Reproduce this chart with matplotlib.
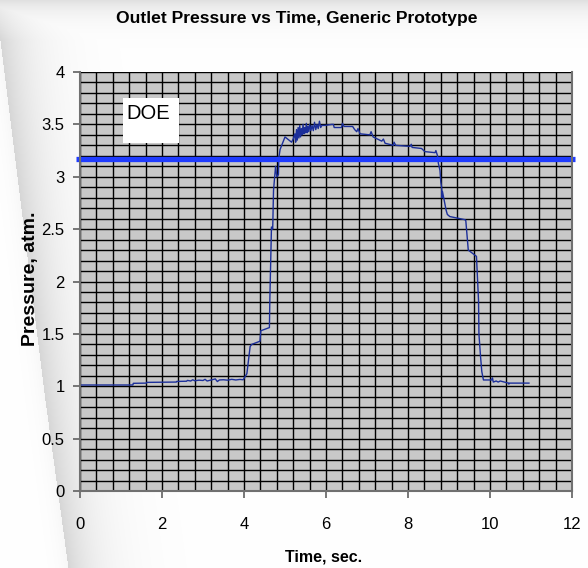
import numpy as np
import matplotlib
matplotlib.use('Agg')
import matplotlib.pyplot as plt
from matplotlib.patches import Rectangle

# data
time_s = [0.00, 1.29, 1.30, 1.62, 1.63, 2.35, 2.36, 2.60, 2.62, 2.70, 2.75, 2.80, 2.90, 3.00,
          3.05, 3.10, 3.20, 3.30, 3.35, 3.40, 3.50, 3.60, 3.70, 3.80, 3.90, 3.98, 4.07, 4.15,
          4.19, 4.39, 4.41, 4.62, 4.63, 4.67, 4.70, 4.72, 4.77, 4.80, 4.84, 4.85, 4.88, 4.94,
          5.00, 5.16, 5.20, 5.24, 5.26, 5.28, 5.30, 5.32, 5.34, 5.36, 5.38, 5.40, 5.42, 5.44,
          5.46, 5.48, 5.50, 5.52, 5.54, 5.56, 5.58, 5.60, 5.63, 5.66, 5.69, 5.72, 5.75, 5.78,
          5.81, 5.84, 5.87, 5.90, 5.98, 6.14, 6.18, 6.20, 6.38, 6.40, 6.44, 6.65, 6.70, 6.75,
          6.78, 6.83, 7.07, 7.10, 7.15, 7.36, 7.40, 7.44, 7.64, 7.66, 7.70, 8.05, 8.08, 8.10,
          8.33, 8.41, 8.66, 8.68, 8.72, 8.74, 8.78, 8.80, 8.82, 8.83, 8.84, 8.93, 8.96, 9.02,
          9.39, 9.41, 9.47, 9.67, 9.72, 9.73, 9.77, 9.80, 9.84, 10.04, 10.06, 10.08, 10.15,
          10.20, 10.25, 10.45, 10.46, 10.47, 10.95]
pressure_atm = [1.012, 1.012, 1.028, 1.030, 1.037, 1.040, 1.046, 1.048, 1.056, 1.050, 1.062,
                1.052, 1.058, 1.055, 1.066, 1.050, 1.060, 1.070, 1.045, 1.060, 1.062, 1.058,
                1.066, 1.060, 1.065, 1.062, 1.12, 1.38, 1.40, 1.43, 1.53, 1.56, 1.82, 2.52,
                2.50, 2.87, 3.10, 3.00, 3.02, 3.18, 3.26, 3.32, 3.38, 3.33, 3.36, 3.41, 3.33,
                3.45, 3.35, 3.47, 3.37, 3.49, 3.38, 3.46, 3.40, 3.50, 3.41, 3.47, 3.42, 3.51,
                3.42, 3.48, 3.43, 3.50, 3.44, 3.49, 3.44, 3.52, 3.45, 3.50, 3.46, 3.53, 3.47,
                3.49, 3.49, 3.50, 3.50, 3.47, 3.47, 3.51, 3.48, 3.48, 3.45, 3.43, 3.46, 3.41,
                3.40, 3.43, 3.38, 3.34, 3.36, 3.32, 3.30, 3.33, 3.30, 3.29, 3.31, 3.28, 3.27,
                3.24, 3.23, 3.25, 3.20, 3.13, 3.06, 2.95, 2.90, 2.80, 2.86, 2.68, 2.64, 2.62,
                2.59, 2.58, 2.30, 2.24, 1.82, 1.50, 1.28, 1.14, 1.06, 1.06, 1.08, 1.04, 1.05,
                1.04, 1.05, 1.03, 1.02, 1.03, 1.03]
doe_level = 3.17
x_ticks = [0, 2, 4, 6, 8, 10, 12]
y_ticks = [0, 0.5, 1, 1.5, 2, 2.5, 3, 3.5, 4]

W, H = 588, 568
plt.rcParams['font.family'] = 'Liberation Sans'
fig = plt.figure(figsize=(W / 100, H / 100), dpi=100)

# slide-like background: gray band at top and a soft swoosh on the left
bg = fig.add_axes([0, 0, 1, 1])
bg.axis('off')
yy, xx = np.mgrid[0:H, 0:W]
curve = np.interp(yy, [0, 40, 200, 400, 568], [-30, 0, 20, 45, 68])
d = xx - curve
shade = np.where(d >= 0, 0.16 * np.exp(-d / 32.0), 0.03 * np.exp(d / 10.0))
shade = np.maximum(shade, 0.12 * np.exp(-yy / 14.0))
img = np.clip(1 - shade, 0, 1)
bg.imshow(np.dstack([img, img, img]), extent=[0, W, H, 0], aspect='auto')
bg.set_xlim(0, W)
bg.set_ylim(H, 0)

ax = fig.add_axes([80 / W, (H - 491) / H, 492 / W, 419 / H])
ax.set_facecolor('#c8c8c8')
ax.set_xlim(0, 12)
ax.set_ylim(0, 4)
ax.set_xticks(x_ticks)
ax.set_yticks(y_ticks)
ax.set_xticks(np.arange(0, 12.01, 0.4), minor=True)
ax.set_yticks(np.arange(0, 4.01, 0.1), minor=True)
ax.set_xticklabels([str(v) for v in x_ticks])
ax.set_yticklabels([f'{v:g}' for v in y_ticks])
ax.grid(which='both', color='black', linewidth=1.0)
ax.set_axisbelow(True)
ax.tick_params(which='minor', length=0)
ax.tick_params(which='major', length=5, width=1.2, color='#606060', direction='out',
               labelsize=12)
ax.tick_params(axis='x', which='major', pad=13.5)
ax.tick_params(axis='y', which='major', pad=6)
for s in ['left', 'bottom', 'right']:
    ax.spines[s].set_color('#707070')
    ax.spines[s].set_linewidth(1.5)
ax.spines['top'].set_visible(False)

ax.plot(time_s, pressure_atm, color='#1c2f9a', linewidth=1.0)
ax.plot([-0.1, 12.07], [doe_level, doe_level], color='#1f3cff', linewidth=3.8,
        clip_on=False, solid_capstyle='butt')

ax.add_patch(Rectangle((1.05, 3.32), 1.36, 0.43, facecolor='white', edgecolor='none', zorder=3))
ax.text(1.13, 3.695, 'DOE', fontsize=14.5, va='top', ha='left', zorder=4)

fig.text(297 / W, 1 - 18 / H, 'Outlet Pressure vs Time, Generic Prototype', ha='center', va='center',
         fontsize=12.6, fontweight='bold')
fig.text(324 / W, 1 - 557 / H, 'Time, sec.', ha='center', va='center',
         fontsize=11.5, fontweight='bold')
fig.text(31 / W, 1 - 279 / H, 'Pressure, atm.', ha='center', va='center', rotation=90,
         fontsize=14, fontweight='bold')

fig.savefig('out.png', dpi=100)
